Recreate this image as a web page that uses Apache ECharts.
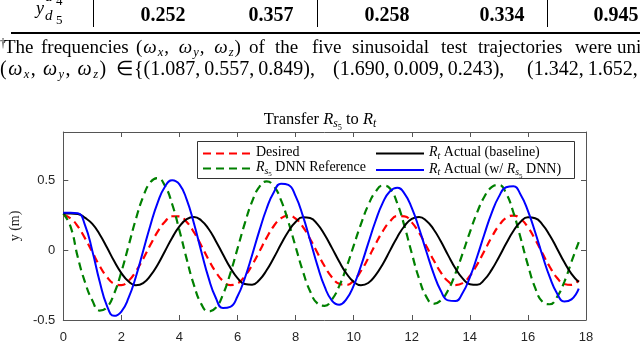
<!DOCTYPE html>
<html>
<head>
<meta charset="utf-8">
<script src="https://cdn.jsdelivr.net/npm/echarts@6/dist/echarts.min.js"></script>
<style>
html, body { margin: 0; padding: 0; background: #fff; }
#page { position: relative; width: 640px; height: 344px; overflow: hidden; font-family: "Liberation Serif", serif; color: #000; }
#chart { position: absolute; left: 0; top: 0; width: 640px; height: 344px; }
.t { position: absolute; white-space: nowrap; line-height: 1; }
.num { font-weight: bold; font-size: 20px; top: 4.2px; transform: translateX(-50%); }
.vl { position: absolute; top: 0; width: 1px; height: 27px; background: #000; }
.f1 { font-size: 19px; top: 36.6px; }
.f2 { font-size: 20px; top: 58.3px; }
.f1 sub, .f2 sub { font-size: 12.5px; font-style: italic; vertical-align: -3px; line-height: 0; }
</style>
</head>
<body>
<div id="page">
  <div id="chart"></div>

  <!-- table rows (cut at the top) -->
  <span class="t" style="left:36px;top:-20.6px;font-size:18px;font-style:italic">y</span>
  <span class="t" style="left:45px;top:-11.4px;font-size:15px;font-style:italic">d</span>
  <span class="t" style="left:56px;top:-6.4px;font-size:13px">4</span>
  <span class="t" style="left:36px;top:-1.1px;font-size:18px;font-style:italic">y</span>
  <span class="t" style="left:45px;top:8.1px;font-size:15px;font-style:italic">d</span>
  <span class="t" style="left:56px;top:13.1px;font-size:13px">5</span>
  <div class="vl" style="left:92.5px"></div>
  <div class="vl" style="left:316.5px"></div>
  <div class="vl" style="left:546.5px"></div>
  <span class="t num" style="left:163px">0.252</span>
  <span class="t num" style="left:271px">0.357</span>
  <span class="t num" style="left:387px">0.258</span>
  <span class="t num" style="left:502px">0.334</span>
  <span class="t num" style="left:616px">0.945</span>
  <div style="position:absolute;left:11px;right:0;top:31.5px;height:2px;background:#000"></div>

  <!-- footnote -->
  <span class="t" style="left:0;top:37px;font-size:12px">†</span>
  <span class="t f1" style="left:4px">The</span>
  <span class="t f1" style="left:41px">frequencies</span>
  <span class="t f1" style="left:136px;word-spacing:3px;letter-spacing:1px">(<i>ω</i><sub>x</sub>, <i>ω</i><sub>y</sub>, <i>ω</i><sub>z</sub>)</span>
  <span class="t f1" style="left:249px">of</span>
  <span class="t f1" style="left:275px">the</span>
  <span class="t f1" style="left:312px">five</span>
  <span class="t f1" style="left:352px">sinusoidal</span>
  <span class="t f1" style="left:441px">test</span>
  <span class="t f1" style="left:478px">trajectories</span>
  <span class="t f1" style="left:575px">were</span>
  <span class="t f1" style="left:617px">uniformly</span>

  <span class="t f2" style="left:0;letter-spacing:1.5px">(<i>ω</i><sub>x</sub>,&thinsp;<i>ω</i><sub>y</sub>,&thinsp;<i>ω</i><sub>z</sub>)</span>
  <span class="t f2" style="left:116px">∈</span>
  <span class="t f2" style="left:134px">{(1.087,&thinsp;0.557,&thinsp;0.849),</span>
  <span class="t f2" style="left:333px">(1.690,&thinsp;0.009,&thinsp;0.243),</span>
  <span class="t f2" style="left:527px">(1.342,&thinsp;1.652,&thinsp;0.478),</span>
</div>

<script>
// time samples (s)
const times = [
  0, 0.25, 0.5, 0.75, 1, 1.25, 1.5, 1.75, 2, 2.25, 2.5, 2.75, 3, 3.25, 3.5, 3.75,
  4, 4.25, 4.5, 4.75, 5, 5.25, 5.5, 5.75, 6, 6.25, 6.5, 6.75, 7, 7.25, 7.5, 7.75,
  8, 8.25, 8.5, 8.75, 9, 9.25, 9.5, 9.75, 10, 10.25, 10.5, 10.75, 11, 11.25, 11.5, 11.75,
  12, 12.25, 12.5, 12.75, 13, 13.25, 13.5, 13.75, 14, 14.25, 14.5, 14.75, 15, 15.25, 15.5, 15.75,
  16, 16.25, 16.5, 16.75, 17, 17.25, 17.5, 17.75
];

// y (m)
const desired = [
  0.255, 0.230, 0.172, 0.086, -0.013, -0.111, -0.190, -0.239, -0.249, -0.218, -0.151, -0.061, 0.040, 0.134, 0.206, 0.245,
  0.244, 0.204, 0.130, 0.035, -0.065, -0.155, -0.220, -0.249, -0.237, -0.185, -0.106, -0.009, 0.090, 0.175, 0.231, 0.250,
  0.228, 0.169, 0.082, -0.017, -0.114, -0.193, -0.240, -0.248, -0.216, -0.148, -0.057, 0.044, 0.137, 0.208, 0.246, 0.244,
  0.201, 0.127, 0.031, -0.069, -0.158, -0.222, -0.249, -0.235, -0.183, -0.102, -0.005, 0.094, 0.178, 0.233, 0.250, 0.226,
  0.166, 0.078, -0.021, -0.118, -0.196, -0.241, -0.248, -0.214
];
const dnnReference = [
  0.265, 0.170, -0.050, -0.230, -0.360, -0.432, -0.410, -0.311, -0.154, 0.035, 0.225, 0.385, 0.489, 0.519, 0.464, 0.331,
  0.143, -0.063, -0.250, -0.384, -0.439, -0.412, -0.316, -0.166, 0.013, 0.194, 0.350, 0.456, 0.495, 0.461, 0.359, 0.205,
  0.026, -0.150, -0.294, -0.381, -0.398, -0.353, -0.257, -0.122, 0.034, 0.189, 0.324, 0.420, 0.465, 0.444, 0.339, 0.173,
  -0.021, -0.202, -0.332, -0.384, -0.360, -0.286, -0.168, -0.023, 0.130, 0.272, 0.385, 0.454, 0.470, 0.409, 0.272, 0.088,
  -0.106, -0.269, -0.369, -0.387, -0.335, -0.228, -0.082, 0.060
];
const baseline = [
  0.265, 0.265, 0.262, 0.233, 0.190, 0.116, 0.022, -0.077, -0.163, -0.224, -0.250, -0.235, -0.182, -0.103, -0.006, 0.091,
  0.172, 0.224, 0.240, 0.215, 0.155, 0.068, -0.030, -0.124, -0.199, -0.242, -0.247, -0.213, -0.143, -0.053, 0.045, 0.136,
  0.204, 0.237, 0.232, 0.188, 0.112, 0.018, -0.080, -0.166, -0.226, -0.250, -0.234, -0.179, -0.099, -0.002, 0.095, 0.175,
  0.226, 0.239, 0.213, 0.152, 0.065, -0.034, -0.128, -0.201, -0.243, -0.247, -0.210, -0.140, -0.049, 0.049, 0.139, 0.206,
  0.238, 0.231, 0.185, 0.109, 0.014, -0.084, -0.169, -0.228
];
const withDnn = [
  0.270, 0.270, 0.267, 0.180, -0.004, -0.221, -0.396, -0.470, -0.439, -0.340, -0.189, -0.005, 0.181, 0.343, 0.457, 0.504,
  0.474, 0.364, 0.193, -0.006, -0.196, -0.340, -0.414, -0.406, -0.330, -0.200, -0.035, 0.140, 0.299, 0.418, 0.479, 0.470,
  0.389, 0.248, 0.073, -0.108, -0.261, -0.360, -0.390, -0.350, -0.253, -0.112, 0.050, 0.209, 0.341, 0.425, 0.450, 0.408,
  0.305, 0.159, -0.006, -0.165, -0.290, -0.359, -0.364, -0.306, -0.194, -0.046, 0.116, 0.268, 0.386, 0.453, 0.460, 0.400,
  0.284, 0.130, -0.037, -0.191, -0.308, -0.367, -0.352, -0.275
];

const SERIF = 'Liberation Serif';
const SANS = 'Liberation Sans';
const axisColor = '#555';
const pair = arr => times.map((t, i) => [t, arr[i]]);

const legendNames = {
  'Desired': '{n|Desired}',
  'Rs5 DNN Reference': '{i|R}{s|s}{ss|5}{n| DNN Reference}',
  'Rt Actual (baseline)': '{i|R}{s|t}{n| Actual (baseline)}',
  'Rt Actual (w/ Rs5 DNN)': '{i|R}{s|t}{n| Actual (w/ }{i|R}{s|s}{ss|5}{n| DNN)}'
};

const richFor = (size, lh) => ({
  n: { fontFamily: SERIF, fontSize: size, fontWeight: 'normal', lineHeight: lh, verticalAlign: 'top', color: '#000' },
  i: { fontFamily: SERIF, fontSize: size, fontWeight: 'normal', fontStyle: 'italic', lineHeight: lh, verticalAlign: 'top', color: '#000' },
  s: { fontFamily: SERIF, fontSize: size * 0.7, fontWeight: 'normal', fontStyle: 'italic', lineHeight: lh, verticalAlign: 'top', padding: [size * 0.42, 0, 0, 0], color: '#000' },
  ss: { fontFamily: SERIF, fontSize: size * 0.5, fontWeight: 'normal', lineHeight: lh, verticalAlign: 'top', padding: [size * 0.75, 0, 0, 0], color: '#000' }
});

const xAxisBase = {
  type: 'value', min: 0, max: 18, interval: 2,
  axisLine: { show: true, onZero: false, lineStyle: { color: axisColor, width: 1 } },
  axisTick: { show: true, inside: true, length: 5, lineStyle: { color: axisColor } },
  splitLine: { show: false }
};
const yAxisBase = {
  type: 'value', min: -0.5, max: 0.85, interval: 0.5,
  axisLine: { show: true, onZero: false, lineStyle: { color: axisColor, width: 1 } },
  axisTick: { show: true, inside: true, length: 5, lineStyle: { color: axisColor } },
  splitLine: { show: false }
};

const legendBase = {
  orient: 'vertical', top: 145.5, padding: 0, itemWidth: 48, itemHeight: 16, itemGap: 0.6,
  z: 10, selectedMode: false,
  itemStyle: { opacity: 0 },
  formatter: name => legendNames[name],
  textStyle: { rich: richFor(14, 16) }
};

const option = {
  animation: false,
  backgroundColor: 'transparent',
  title: {
    text: '{n|Transfer }{i|R}{s|s}{ss|5}{n| to }{i|R}{s|t}',
    left: 'center', top: 111, padding: 0,
    textStyle: { fontWeight: 'normal', rich: richFor(16.5, 19) }
  },
  grid: { left: 55, right: 54, top: 132, bottom: 18 },
  xAxis: [
    Object.assign({}, xAxisBase, {
      position: 'bottom',
      axisLabel: { color: '#262626', fontFamily: SANS, fontSize: 13, margin: 11 }
    }),
    Object.assign({}, xAxisBase, { position: 'top', axisLabel: { show: false } })
  ],
  yAxis: [
    Object.assign({}, yAxisBase, {
      position: 'left',
      name: 'y (m)', nameLocation: 'middle', nameGap: 37, nameRotate: 90,
      nameTextStyle: { fontFamily: SERIF, fontSize: 14, color: '#262626' },
      axisLabel: { color: '#262626', fontFamily: SANS, fontSize: 13, margin: 8, showMaxLabel: false }
    }),
    Object.assign({}, yAxisBase, { position: 'right', axisLabel: { show: false } })
  ],
  legend: [
    Object.assign({}, legendBase, { left: 202, data: ['Desired', 'Rs5 DNN Reference'] }),
    Object.assign({}, legendBase, { left: 375, data: ['Rt Actual (baseline)', 'Rt Actual (w/ Rs5 DNN)'] })
  ],
  graphic: [{
    type: 'rect', z: 5,
    shape: { x: 197.5, y: 141.5, width: 377, height: 37 },
    style: { fill: '#fff', stroke: '#333', lineWidth: 1 }
  }],
  series: [
    {
      name: 'Desired', type: 'line', data: pair(desired), smooth: true, symbol: 'none',
      lineStyle: { color: '#ff0000', width: 2.2, type: [8, 5] }, itemStyle: { color: '#ff0000' }
    },
    {
      name: 'Rs5 DNN Reference', type: 'line', data: pair(dnnReference), smooth: true, symbol: 'none',
      lineStyle: { color: '#008000', width: 2.2, type: [8, 5] }, itemStyle: { color: '#008000' }
    },
    {
      name: 'Rt Actual (baseline)', type: 'line', data: pair(baseline), smooth: true, symbol: 'none',
      lineStyle: { color: '#000000', width: 2 }, itemStyle: { color: '#000000' }
    },
    {
      name: 'Rt Actual (w/ Rs5 DNN)', type: 'line', data: pair(withDnn), smooth: true, symbol: 'none',
      lineStyle: { color: '#0000ff', width: 2 }, itemStyle: { color: '#0000ff' }
    }
  ]
};

const chart = echarts.init(document.getElementById('chart'), null, { renderer: 'canvas' });
chart.setOption(option);
</script>
</body>
</html>
